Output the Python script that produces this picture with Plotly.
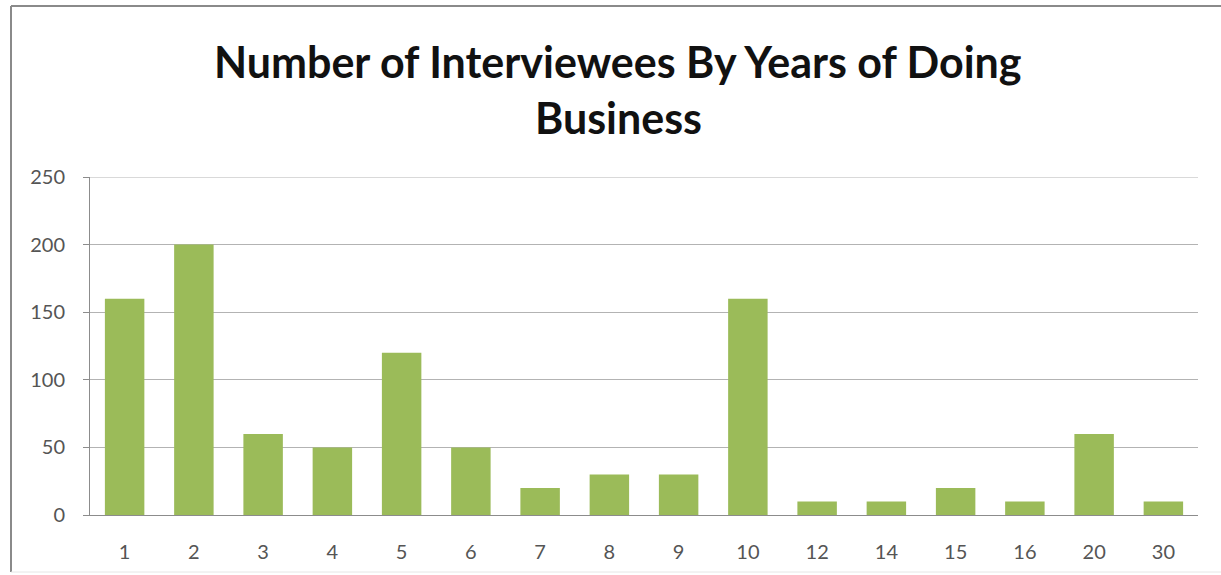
import plotly.graph_objects as go

# Years of doing business and number of interviewees in each group
years = ["1", "2", "3", "4", "5", "6", "7", "8", "9", "10", "12", "14", "15", "16", "20", "30"]
interviewees = [160, 200, 60, 50, 120, 50, 20, 30, 30, 160, 10, 10, 20, 10, 60, 10]
y_ticks = [0, 50, 100, 150, 200, 250]
title_lines = ["Number of Interviewees By Years of Doing", "Business"]

W, H = 1221, 575
L, R, T, B = 90, 23, 177, 60
pw, ph = W - L - R, H - T - B

def px(x):
    return (x - L) / pw

def py(y):
    return (H - B - y) / ph

fig = go.Figure(
    go.Bar(
        x=years,
        y=interviewees,
        marker=dict(color="#9BBB59", line=dict(width=0)),
    )
)

# two-line chart title, one annotation per line
title_annotations = [
    dict(text=line, xref="paper", yref="paper",
         x=px(618), y=py(yc), xanchor="center", yanchor="middle",
         showarrow=False,
         font=dict(family="Lato", size=43, color="#111111", weight="bold"))
    for line, yc in zip(title_lines, [62, 117])
]

fig.update_layout(
    width=W,
    height=H,
    margin=dict(l=L, r=R, t=T, b=B),
    paper_bgcolor="white",
    plot_bgcolor="white",
    bargap=0.43,
    showlegend=False,
    font=dict(family="Lato", color="#595959"),
    annotations=title_annotations,
    xaxis=dict(
        type="category",
        showgrid=False,
        showline=True,
        linecolor="#8c8c8c",
        linewidth=1,
        ticks="",
        tickfont=dict(size=20, color="#555555"),
        ticklabelstandoff=19,
    ),
    yaxis=dict(
        range=[0, 250],
        tickvals=y_ticks,
        showgrid=True,
        gridcolor="#b3b3b3",
        gridwidth=1,
        showline=True,
        linecolor="#8c8c8c",
        linewidth=1,
        ticks="outside",
        ticklen=6,
        tickcolor="#8c8c8c",
        tickfont=dict(size=20, color="#555555"),
        ticklabelstandoff=14,
        zeroline=False,
    ),
    shapes=[
        # top gridline at the range maximum
        dict(type="line", xref="paper", yref="y",
             x0=0, x1=1, y0=250, y1=250,
             line=dict(color="#b3b3b3", width=1)),
        # outer frame around the chart object
        dict(type="line", xref="paper", yref="paper",
             x0=px(11), x1=px(11), y0=py(6), y1=py(572),
             line=dict(color="#8a8a8a", width=2)),
        dict(type="line", xref="paper", yref="paper",
             x0=px(11), x1=px(1221), y0=py(6), y1=py(6),
             line=dict(color="#8a8a8a", width=2)),
        dict(type="line", xref="paper", yref="paper",
             x0=px(11), x1=px(1221), y0=py(572), y1=py(572),
             line=dict(color="#e6e6e6", width=1)),
    ],
)

fig.write_html("out.html")
